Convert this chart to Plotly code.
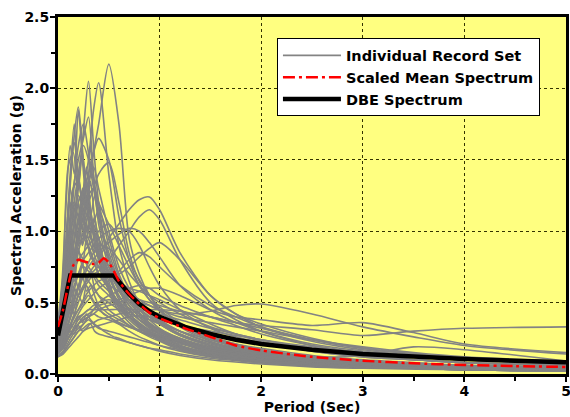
import plotly.graph_objects as go

# Periods (sec) at which individual records are sampled
periods = [0.0, 0.05, 0.1, 0.15, 0.2, 0.25, 0.3, 0.35, 0.4, 0.5, 0.6, 0.7,
           0.8, 0.9, 1.0, 1.2, 1.5, 1.75, 2.0, 2.5, 3.0, 3.5, 4.0, 5.0]

rec01 = [0.30,0.38,0.55,0.75,0.95,1.10,1.30,1.55,1.75,2.17,1.75,0.95,0.70,0.55,0.45,0.35,0.25,0.20,0.16,0.11,0.08,0.06,0.05,0.03]
rec02 = [0.25,0.40,0.70,1.00,1.30,1.70,2.05,1.60,1.20,0.80,0.60,0.50,0.42,0.35,0.30,0.22,0.15,0.12,0.10,0.07,0.05,0.04,0.03,0.02]
rec03 = [0.28,0.35,0.60,0.90,1.10,1.30,1.50,1.85,2.04,1.40,0.90,0.65,0.50,0.42,0.36,0.28,0.20,0.16,0.13,0.09,0.07,0.05,0.04,0.03]
rec04 = [0.35,0.60,1.10,1.60,1.87,1.50,1.20,1.00,0.90,0.70,0.55,0.45,0.38,0.33,0.28,0.22,0.16,0.13,0.11,0.08,0.06,0.05,0.04,0.03]
rec05 = [0.30,0.70,1.45,1.55,1.20,1.00,0.90,0.80,0.70,0.60,0.50,0.40,0.34,0.30,0.26,0.20,0.14,0.11,0.09,0.06,0.05,0.04,0.03,0.02]
rec06 = [0.20,0.25,0.35,0.45,0.55,0.60,0.70,0.75,0.80,0.95,1.05,1.15,1.22,1.24,1.15,0.85,0.55,0.42,0.35,0.25,0.18,0.14,0.11,0.08]
rec07 = [0.18,0.22,0.30,0.40,0.50,0.60,0.65,0.70,0.72,0.80,0.90,1.00,1.10,1.15,1.08,0.80,0.50,0.38,0.30,0.20,0.15,0.12,0.10,0.07]
rec08 = [0.22,0.30,0.45,0.60,0.70,0.80,0.85,0.90,0.95,1.00,1.02,1.00,0.90,0.75,0.62,0.45,0.32,0.26,0.22,0.16,0.12,0.10,0.08,0.06]
rec09 = [0.28,0.40,0.60,0.80,1.00,1.10,1.20,1.30,1.40,1.48,1.20,0.85,0.65,0.55,0.45,0.33,0.23,0.18,0.15,0.10,0.08,0.06,0.05,0.03]
rec10 = [0.32,0.55,0.90,1.30,1.50,1.65,1.80,1.40,1.10,0.80,0.60,0.45,0.38,0.32,0.28,0.20,0.14,0.11,0.09,0.06,0.05,0.04,0.03,0.02]
rec11 = [0.25,0.45,0.90,1.30,1.35,1.10,0.95,0.85,0.75,0.60,0.48,0.40,0.33,0.28,0.24,0.18,0.13,0.10,0.08,0.06,0.05,0.04,0.03,0.02]
rec12 = [0.15,0.18,0.25,0.30,0.35,0.38,0.40,0.42,0.45,0.48,0.50,0.52,0.50,0.48,0.45,0.42,0.44,0.48,0.49,0.42,0.33,0.26,0.20,0.14]
rec13 = [0.12,0.15,0.20,0.25,0.30,0.32,0.35,0.36,0.38,0.40,0.42,0.43,0.44,0.45,0.45,0.44,0.40,0.36,0.34,0.31,0.27,0.30,0.32,0.33]
rec14 = [0.15,0.18,0.25,0.30,0.35,0.40,0.42,0.45,0.48,0.50,0.52,0.55,0.58,0.60,0.60,0.55,0.45,0.40,0.38,0.34,0.36,0.29,0.21,0.15]
rec15 = [0.20,0.22,0.30,0.35,0.40,0.42,0.45,0.45,0.45,0.45,0.45,0.42,0.40,0.38,0.36,0.30,0.22,0.17,0.14,0.12,0.13,0.19,0.17,0.09]
rec16 = [0.15,0.20,0.30,0.40,0.45,0.50,0.55,0.50,0.45,0.40,0.35,0.30,0.26,0.23,0.20,0.16,0.12,0.10,0.08,0.06,0.05,0.04,0.03,0.02]
rec17 = [0.18,0.25,0.35,0.50,0.60,0.70,0.65,0.60,0.55,0.50,0.45,0.40,0.35,0.30,0.27,0.22,0.17,0.14,0.12,0.09,0.07,0.05,0.04,0.03]
rec18 = [0.12,0.15,0.20,0.25,0.30,0.35,0.40,0.42,0.40,0.38,0.35,0.33,0.30,0.28,0.26,0.22,0.18,0.15,0.13,0.10,0.08,0.06,0.05,0.04]
rec19 = [0.20,0.30,0.45,0.65,0.85,1.00,1.10,1.05,0.95,0.80,0.65,0.55,0.48,0.42,0.37,0.30,0.22,0.18,0.15,0.11,0.08,0.07,0.05,0.04]
rec20 = [0.25,0.35,0.55,0.80,1.00,1.20,1.35,1.45,1.30,1.00,0.75,0.60,0.50,0.44,0.38,0.30,0.22,0.18,0.15,0.11,0.08,0.06,0.05,0.04]
rec21 = [0.22,0.30,0.50,0.70,0.90,0.95,0.88,0.80,0.75,0.70,0.65,0.60,0.58,0.55,0.52,0.45,0.35,0.28,0.23,0.16,0.12,0.10,0.08,0.06]
rec22 = [0.14,0.18,0.25,0.30,0.35,0.38,0.40,0.45,0.50,0.55,0.58,0.60,0.62,0.60,0.55,0.48,0.40,0.34,0.28,0.20,0.15,0.12,0.10,0.07]
rec23 = [0.30,0.45,0.75,1.10,1.25,1.15,1.00,0.90,0.85,0.75,0.62,0.52,0.45,0.40,0.35,0.28,0.21,0.17,0.14,0.10,0.08,0.06,0.05,0.04]
rec24 = [0.17,0.22,0.30,0.38,0.45,0.52,0.58,0.62,0.65,0.68,0.70,0.75,0.82,0.88,0.92,0.80,0.55,0.42,0.33,0.23,0.17,0.13,0.10,0.07]
rec25 = [0.26,0.40,0.65,0.90,1.05,1.15,1.25,1.30,1.20,1.05,0.90,0.75,0.62,0.52,0.45,0.35,0.26,0.21,0.18,0.13,0.10,0.08,0.06,0.05]
rec26 = [0.13,0.16,0.22,0.28,0.32,0.35,0.38,0.35,0.32,0.30,0.28,0.26,0.24,0.22,0.20,0.17,0.13,0.11,0.09,0.07,0.05,0.04,0.03,0.03]
rec27 = [0.20,0.28,0.40,0.55,0.70,0.75,0.72,0.68,0.62,0.55,0.48,0.45,0.45,0.44,0.42,0.38,0.32,0.28,0.24,0.18,0.13,0.10,0.08,0.06]
rec28 = [0.35,0.55,0.95,1.20,1.10,1.00,0.95,1.05,1.15,0.95,0.70,0.55,0.45,0.38,0.32,0.25,0.18,0.14,0.12,0.08,0.06,0.05,0.04,0.03]
rec29 = [0.16,0.20,0.28,0.35,0.42,0.48,0.52,0.56,0.60,0.65,0.72,0.80,0.85,0.82,0.75,0.62,0.48,0.40,0.33,0.24,0.18,0.14,0.11,0.08]
rec30 = [0.24,0.35,0.55,0.75,0.85,0.80,0.75,0.70,0.65,0.58,0.50,0.44,0.38,0.34,0.30,0.24,0.18,0.15,0.12,0.09,0.07,0.05,0.04,0.03]
rec31 = [0.19,0.25,0.35,0.45,0.55,0.62,0.68,0.72,0.75,0.72,0.65,0.58,0.52,0.48,0.45,0.40,0.36,0.33,0.30,0.24,0.19,0.15,0.12,0.09]
rec32 = [0.28,0.45,0.80,1.15,1.40,1.60,1.50,1.30,1.10,0.85,0.65,0.52,0.43,0.36,0.31,0.24,0.17,0.14,0.11,0.08,0.06,0.05,0.04,0.03]
rec33 = [0.21,0.28,0.40,0.52,0.62,0.70,0.78,0.85,0.90,0.88,0.80,0.70,0.62,0.55,0.50,0.42,0.33,0.28,0.24,0.17,0.13,0.10,0.08,0.06]
rec34 = [0.15,0.18,0.25,0.32,0.38,0.42,0.45,0.48,0.50,0.52,0.50,0.46,0.42,0.38,0.35,0.30,0.24,0.20,0.17,0.12,0.09,0.07,0.06,0.04]
rec35 = [0.33,0.50,0.85,1.25,1.60,1.75,1.55,1.35,1.20,0.90,0.68,0.55,0.46,0.40,0.35,0.27,0.20,0.16,0.13,0.09,0.07,0.05,0.04,0.03]
rec36 = [0.18,0.24,0.35,0.48,0.60,0.68,0.75,0.80,0.85,0.92,0.98,1.02,1.00,0.92,0.82,0.62,0.45,0.36,0.30,0.21,0.16,0.12,0.10,0.07]
rec37 = [0.23,0.32,0.50,0.70,0.80,0.85,0.90,0.95,1.00,1.05,0.95,0.80,0.66,0.55,0.47,0.36,0.26,0.21,0.17,0.12,0.09,0.07,0.06,0.04]
rec38 = [0.12,0.14,0.18,0.22,0.26,0.30,0.32,0.33,0.34,0.36,0.38,0.40,0.41,0.40,0.38,0.34,0.30,0.27,0.24,0.19,0.15,0.12,0.10,0.07]
rec39 = [0.27,0.42,0.70,1.00,1.20,1.30,1.40,1.55,1.65,1.50,1.10,0.80,0.62,0.52,0.44,0.34,0.24,0.19,0.16,0.11,0.08,0.06,0.05,0.04]
rec40 = [0.20,0.30,0.50,0.75,0.95,1.05,1.00,0.90,0.82,0.70,0.60,0.55,0.52,0.50,0.48,0.44,0.40,0.36,0.32,0.24,0.18,0.14,0.11,0.08]

records = [rec01, rec02, rec03, rec04, rec05, rec06, rec07, rec08, rec09, rec10,
           rec11, rec12, rec13, rec14, rec15, rec16, rec17, rec18, rec19, rec20,
           rec21, rec22, rec23, rec24, rec25, rec26, rec27, rec28, rec29, rec30,
           rec31, rec32, rec33, rec34, rec35, rec36, rec37, rec38, rec39, rec40]

# Records sampled on a finer short-period grid (jagged short-period content)
periods_fine = [0.0, 0.04, 0.08, 0.12, 0.16, 0.2, 0.24, 0.28, 0.32, 0.36, 0.4, 0.45, 0.5,
                0.55, 0.6, 0.7, 0.8, 0.9, 1.0, 1.2, 1.5, 2.0, 2.5, 3.0, 4.0, 5.0]

sec01 = [0.22,0.35,0.60,0.95,0.80,1.10,0.90,1.25,1.00,0.85,0.95,0.75,0.65,0.55,0.50,0.42,0.36,0.31,0.28,0.22,0.16,0.11,0.08,0.06,0.04,0.03]
sec02 = [0.30,0.50,0.85,1.20,1.05,1.40,1.15,0.95,1.10,0.90,0.80,0.70,0.62,0.55,0.48,0.40,0.34,0.29,0.25,0.19,0.14,0.10,0.07,0.05,0.04,0.03]
sec03 = [0.18,0.25,0.40,0.55,0.70,0.60,0.78,0.65,0.72,0.60,0.55,0.50,0.45,0.42,0.40,0.34,0.30,0.27,0.24,0.19,0.14,0.10,0.08,0.06,0.04,0.03]
sec04 = [0.35,0.55,0.95,1.40,1.75,1.30,1.55,1.20,1.00,1.10,0.85,0.70,0.60,0.52,0.46,0.38,0.32,0.28,0.24,0.18,0.13,0.09,0.07,0.05,0.04,0.03]
sec05 = [0.26,0.45,0.75,0.65,0.95,1.20,0.90,1.05,1.35,1.10,0.95,0.80,0.72,0.60,0.52,0.42,0.35,0.30,0.26,0.20,0.15,0.10,0.08,0.06,0.04,0.03]
sec06 = [0.15,0.20,0.28,0.35,0.32,0.40,0.36,0.42,0.38,0.35,0.33,0.30,0.28,0.26,0.25,0.22,0.20,0.18,0.16,0.13,0.10,0.07,0.05,0.04,0.03,0.02]
sec07 = [0.28,0.48,0.90,1.30,1.10,0.95,1.20,1.45,1.15,1.00,0.90,0.78,0.68,0.60,0.54,0.45,0.38,0.33,0.29,0.23,0.17,0.12,0.09,0.07,0.05,0.04]
sec08 = [0.20,0.30,0.50,0.45,0.60,0.55,0.70,0.58,0.62,0.55,0.48,0.45,0.42,0.40,0.38,0.34,0.30,0.27,0.25,0.21,0.17,0.12,0.09,0.07,0.05,0.04]
sec09 = [0.38,0.65,1.20,1.60,1.40,1.85,1.50,1.20,1.05,0.95,0.85,0.72,0.62,0.54,0.48,0.40,0.33,0.28,0.24,0.18,0.13,0.09,0.07,0.05,0.04,0.03]
sec10 = [0.24,0.38,0.62,0.85,1.05,0.90,1.15,1.30,1.10,1.25,1.05,0.88,0.75,0.66,0.58,0.48,0.40,0.35,0.31,0.25,0.19,0.13,0.10,0.08,0.06,0.04]
sec11 = [0.17,0.24,0.35,0.48,0.42,0.55,0.50,0.62,0.55,0.50,0.46,0.42,0.40,0.38,0.36,0.33,0.31,0.29,0.27,0.23,0.18,0.13,0.10,0.08,0.06,0.05]
sec12 = [0.32,0.52,0.88,0.75,1.05,0.92,1.30,1.10,1.60,1.30,1.15,0.95,0.82,0.70,0.60,0.48,0.40,0.34,0.30,0.23,0.17,0.12,0.09,0.07,0.05,0.04]
sec13 = [0.21,0.32,0.50,0.72,0.65,0.88,0.75,0.95,0.82,0.78,0.70,0.66,0.62,0.60,0.58,0.52,0.46,0.40,0.35,0.27,0.20,0.14,0.11,0.08,0.06,0.05]
sec14 = [0.14,0.18,0.24,0.30,0.28,0.34,0.30,0.32,0.35,0.30,0.28,0.27,0.26,0.25,0.24,0.22,0.20,0.18,0.17,0.14,0.11,0.08,0.06,0.05,0.04,0.03]
sec15 = [0.29,0.50,0.92,1.35,1.62,1.40,1.20,1.35,1.15,0.95,0.80,0.68,0.58,0.50,0.44,0.36,0.30,0.26,0.23,0.17,0.13,0.09,0.07,0.05,0.04,0.03]

records_fine = [sec01, sec02, sec03, sec04, sec05, sec06, sec07, sec08,
                sec09, sec10, sec11, sec12, sec13, sec14, sec15]

# Scaled mean spectrum
mean_T = [0.0, 0.05, 0.1, 0.15, 0.2, 0.25, 0.3, 0.35, 0.4, 0.45, 0.5, 0.55, 0.6,
          0.7, 0.8, 0.9, 1.0, 1.25, 1.5, 1.75, 2.0, 2.5, 3.0, 3.5, 4.0, 4.5, 5.0]
mean_Sa = [0.33, 0.45, 0.62, 0.76, 0.80, 0.79, 0.78, 0.77, 0.78, 0.81, 0.78, 0.72, 0.65,
           0.56, 0.49, 0.43, 0.39, 0.32, 0.26, 0.20, 0.165, 0.12, 0.093, 0.075, 0.063, 0.055, 0.049]

# DBE design spectrum
dbe_T = [0.0, 0.12, 0.55, 0.6, 0.7, 0.8, 0.9, 1.0, 1.25, 1.5, 1.75, 2.0, 2.5, 3.0, 3.5, 4.0, 4.5, 5.0]
dbe_Sa = [0.27, 0.69, 0.69, 0.645, 0.56, 0.49, 0.44, 0.40, 0.33, 0.28, 0.24, 0.21, 0.17, 0.14, 0.12, 0.105, 0.093, 0.083]

FONT = "DejaVu Sans, Liberation Sans, Arial, sans-serif"
GRAY = "#838383"

fig = go.Figure()
first = True
for xs, group in ((periods, records), (periods_fine, records_fine)):
    for r in group:
        fig.add_trace(go.Scatter(
            x=xs, y=r, mode="lines",
            line=dict(color=GRAY, width=1.6, shape="spline", smoothing=0.8),
            name="Individual Record Set", legendgroup="rec", legendrank=1,
            showlegend=first, hoverinfo="skip"))
        first = False

fig.add_trace(go.Scatter(
    x=dbe_T, y=dbe_Sa, mode="lines", name="DBE Spectrum",
    line=dict(color="black", width=4.5), legendrank=3))
fig.add_trace(go.Scatter(
    x=mean_T, y=mean_Sa, mode="lines", name="Scaled Mean Spectrum",
    line=dict(color="#ff0000", width=2.5, dash="12px,4px,3px,4px", shape="spline", smoothing=0.6),
    legendrank=2))

fig.update_layout(
    width=570, height=417,
    margin=dict(l=58, r=4, t=17, b=43),
    paper_bgcolor="white", plot_bgcolor="#ffff80",
    font=dict(family=FONT, size=14, color="black", weight="bold"),
    showlegend=True,
    legend=dict(x=0.431, y=0.94, xanchor="left", yanchor="top",
                bgcolor="white", bordercolor="black", borderwidth=1,
                font=dict(family=FONT, size=14.5, color="black", weight="bold"),
                tracegroupgap=0, itemwidth=58, traceorder="normal"),
)
fig.update_xaxes(
    range=[0, 5], dtick=1, tick0=0, ticklabeloverflow="allow", automargin=False,
    ticklabelstandoff=-3,
    showgrid=True, gridcolor="#333300", griddash="dot", gridwidth=1,
    showline=True, linecolor="black", linewidth=3, mirror=True,
    ticks="outside", ticklen=5, tickwidth=2, tickcolor="black",
    minor=dict(dtick=0.5, ticks="outside", ticklen=4, tickwidth=2, tickcolor="black", showgrid=False),
    tickfont=dict(family=FONT, size=14, weight="bold"),
    title=dict(text="Period (Sec)", font=dict(family=FONT, size=14, weight="bold"), standoff=1),
    zeroline=False,
)
fig.update_yaxes(
    range=[0, 2.5], dtick=0.5, tick0=0, tickformat=".1f", automargin=False,
    ticklabelstandoff=-2,
    showgrid=True, gridcolor="#333300", griddash="dot", gridwidth=1,
    showline=True, linecolor="black", linewidth=3, mirror=True,
    ticks="outside", ticklen=5, tickwidth=2, tickcolor="black",
    minor=dict(dtick=0.25, ticks="outside", ticklen=4, tickwidth=2, tickcolor="black", showgrid=False),
    tickfont=dict(family=FONT, size=14, weight="bold"),
    title=dict(text="Spectral Acceleration (g)", font=dict(family=FONT, size=14.3, weight="bold"), standoff=0),
    zeroline=False,
)

fig.write_html("out.html")
